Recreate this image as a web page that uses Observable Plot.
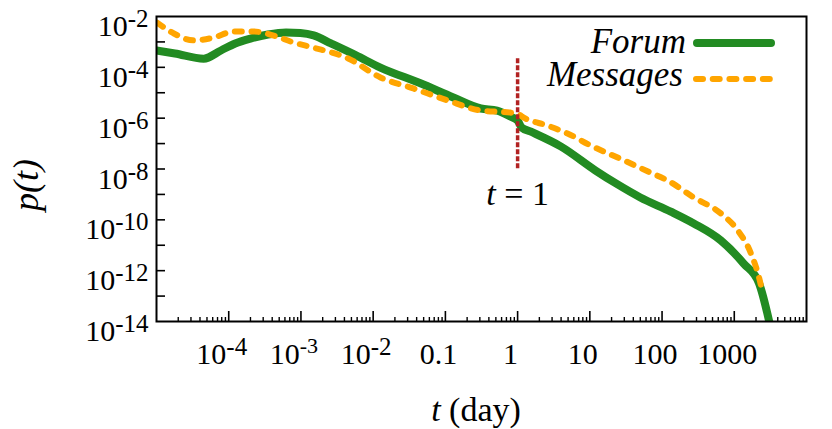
<!DOCTYPE html>
<html><head><meta charset="utf-8">
<script src="https://cdn.jsdelivr.net/npm/d3@7"></script>
<script src="https://cdn.jsdelivr.net/npm/@observablehq/plot@0.6"></script>
<style>body{margin:0;background:#fff}</style>
</head><body><div id="chart"></div>
<script>
// Forum series: t (day), p(t)
const forumT = [1e-5, 1.8e-5, 4.5e-5, 7.8e-5, 1.23e-4, 2.0e-4, 3.5e-4, 6.2e-4, 9.8e-4, 1.5e-3, 2.6e-3, 5.8e-3, 1.26e-2, 4.6e-2, 0.129, 0.31, 0.52, 0.79, 1.0, 1.135, 1.5, 4.0, 12, 23, 50, 132, 275, 650, 1350, 2200, 3160];
const forumP = [4.6e-4, 3.5e-4, 2.2e-4, 4.6e-4, 8.7e-4, 1.35e-3, 1.95e-3, 2.35e-3, 2.24e-3, 1.8e-3, 8.7e-4, 2.95e-4, 9.8e-5, 2.3e-5, 6.5e-6, 2.4e-6, 2.0e-6, 1.17e-6, 8.1e-7, 4.3e-7, 3.0e-7, 7.6e-8, 8.7e-9, 2.7e-9, 7.6e-10, 2.1e-10, 7.2e-11, 1.55e-11, 1.9e-12, 3.2e-13, 6.3e-15];
// Messages series
const messagesT = [1.02e-5, 1.74e-5, 3.2e-5, 6.2e-5, 1.17e-4, 2.2e-4, 4.2e-4, 7.9e-4, 1.48e-3, 4.5e-3, 1.26e-2, 3.6e-2, 0.107, 0.31, 0.79, 1.0, 1.2, 2.6, 4.9, 10.2, 29.5, 69, 120, 275, 650, 1120, 1700, 2200, 2350];
const messagesP = [5.75e-3, 2.14e-3, 1.15e-3, 1.48e-3, 2.57e-3, 2.57e-3, 1.78e-3, 9.5e-4, 6.0e-4, 2.24e-4, 4.0e-5, 1.48e-5, 5.0e-6, 2.0e-6, 1.66e-6, 1.5e-6, 1.07e-6, 5.1e-7, 2.5e-7, 8.5e-8, 2.2e-8, 7.2e-9, 3.5e-9, 7.6e-10, 1.8e-10, 3.8e-11, 4.8e-12, 5.4e-13, 2.5e-13];

const seriesNames = ["Forum", "Messages"];
const seriesColors = ["#228b22", "#ffa500"];

// tick values and labels
const xTickValues = [1e-4, 1e-3, 1e-2, 0.1, 1, 10, 100, 1000];
const xTickLabels = ["10^-4", "10^-3", "10^-2", "0.1", "1", "10", "100", "1000"];
const yTickValues = [1e-14, 1e-12, 1e-10, 1e-8, 1e-6, 1e-4, 1e-2];
const yTickLabels = ["10^-14", "10^-12", "10^-10", "10^-8", "10^-6", "10^-4", "10^-2"];
const xDecades = [1e-5, 1e-4, 1e-3, 1e-2, 0.1, 1, 10, 100, 1000, 1e4];
const yDecades = [1e-14, 1e-13, 1e-12, 1e-11, 1e-10, 1e-9, 1e-8, 1e-7, 1e-6, 1e-5, 1e-4, 1e-3, 1e-2];
const xMinor = xDecades.slice(0, -1).flatMap(d => [2,3,4,5,6,7,8,9].map(k => k * d));

const xTitle = "t (day)";
const yTitle = "p(t)";

// annotation t = 1
const markerT = [1];
const markerP1 = 2.2e-4, markerP2 = 1e-8;
const annotation = [{t: 1, p: 1e-9, label: "t = 1"}];

const forum = forumT.map((t, i) => ({t, p: forumP[i]}));
const messages = messagesT.map((t, i) => ({t, p: messagesP[i]}));

const W = 832, H = 429, mL = 156, mR = 26, mT = 16, mB = 108;
const plotW = W - mL - mR, plotH = H - mT - mB;
const FONT = "'Liberation Serif', 'Times New Roman', 'DejaVu Serif', serif";

const svg = Plot.plot({
  width: W, height: H,
  marginLeft: mL, marginRight: mR, marginTop: mT, marginBottom: mB,
  style: {fontFamily: FONT, background: "white", color: "black", overflow: "visible"},
  x: {type: "log", domain: [1e-5, 1e4]},
  y: {type: "log", domain: [1e-14, 1e-2]},
  marks: [
    Plot.ruleX(xMinor, {x: d => d, insetTop: plotH - 4, stroke: "black", strokeWidth: 1.4}),
    Plot.ruleX(xDecades.slice(1, -1), {x: d => d, insetTop: plotH - 10, stroke: "black", strokeWidth: 1.6}),
    Plot.ruleY(yDecades.slice(1, -1), {y: d => d, insetRight: plotW - 9, stroke: "black", strokeWidth: 1.6}),
    Plot.axisX({ticks: xTickValues, tickSize: 0, tickPadding: 21, fontSize: 30, dx: -7,
      tickFormat: d => xTickLabels[xTickValues.indexOf(d)], label: null}),
    Plot.axisY({ticks: yTickValues, tickSize: 0, tickPadding: 8, fontSize: 30, dy: 10,
      tickFormat: d => yTickLabels[yTickValues.indexOf(d)], label: null}),
    Plot.line(forum, {x: "t", y: "p", stroke: seriesColors[0], strokeWidth: 8, curve: "monotone-x",
      strokeLinecap: "round", strokeLinejoin: "round", clip: true}),
    Plot.line(messages, {x: "t", y: "p", stroke: seriesColors[1], strokeWidth: 6, curve: "monotone-x",
      strokeLinecap: "round", strokeLinejoin: "round", strokeDasharray: "7,9.7", clip: true}),
    Plot.ruleX(markerT, {x: d => d, y1: markerP1, y2: markerP2, stroke: "#b22222", strokeWidth: 3.5, strokeDasharray: "5,2"}),
    Plot.text(annotation, {x: "t", y: "p", text: "label", fontSize: 34, fill: "black"}),
    Plot.frame({stroke: "black", strokeWidth: 2})
  ]
});

const ns = "http://www.w3.org/2000/svg";
// superscripts in tick labels, italic t in annotation
svg.querySelectorAll("text").forEach(el => {
  const s = el.textContent;
  if (s.includes("^")) {
    const isY = yTickLabels.includes(s);
    const [base, exp] = s.split("^");
    el.textContent = "";
    const t1 = document.createElementNS(ns, "tspan"); t1.textContent = base;
    const t2 = document.createElementNS(ns, "tspan"); t2.textContent = exp;
    t2.setAttribute("dy", isY ? "-9" : "-11");
    t2.setAttribute("font-size", isY ? "25" : "22");
    el.appendChild(t1); el.appendChild(t2);
  } else if (s === "t = 1") {
    el.textContent = "";
    const t1 = document.createElementNS(ns, "tspan"); t1.textContent = "t"; t1.setAttribute("font-style", "italic");
    const t2 = document.createElementNS(ns, "tspan"); t2.textContent = s.slice(1);
    el.appendChild(t1); el.appendChild(t2);
  }
});

const root = d3.select(svg);
// axis titles
const xt = root.append("text").attr("x", 476).attr("y", 421).attr("text-anchor", "middle")
  .attr("font-family", FONT).attr("font-size", 34).attr("fill", "black");
xt.append("tspan").attr("font-style", "italic").text(xTitle[0]);
xt.append("tspan").text(xTitle.slice(1));
root.append("text").attr("transform", "translate(38,185) rotate(-90)").attr("text-anchor", "middle")
  .attr("font-family", FONT).attr("font-size", 36).attr("font-style", "italic").attr("fill", "black").text(yTitle);

// legend (inside plot, top right)
const lg = root.append("g").attr("font-family", FONT).attr("font-style", "italic").attr("font-size", 35);
lg.append("text").attr("x", 686).attr("y", 53).attr("text-anchor", "end").text(seriesNames[0]);
lg.append("line").attr("x1", 697).attr("x2", 771).attr("y1", 43).attr("y2", 43)
  .attr("stroke", seriesColors[0]).attr("stroke-width", 8).attr("stroke-linecap", "round");
lg.append("text").attr("x", 683).attr("y", 86).attr("text-anchor", "end").text(seriesNames[1]);
lg.append("line").attr("x1", 696).attr("x2", 770).attr("y1", 79).attr("y2", 79)
  .attr("stroke", seriesColors[1]).attr("stroke-width", 6).attr("stroke-linecap", "round").attr("stroke-dasharray", "7,9.7");

document.getElementById("chart").appendChild(svg);
</script>
</body></html>
